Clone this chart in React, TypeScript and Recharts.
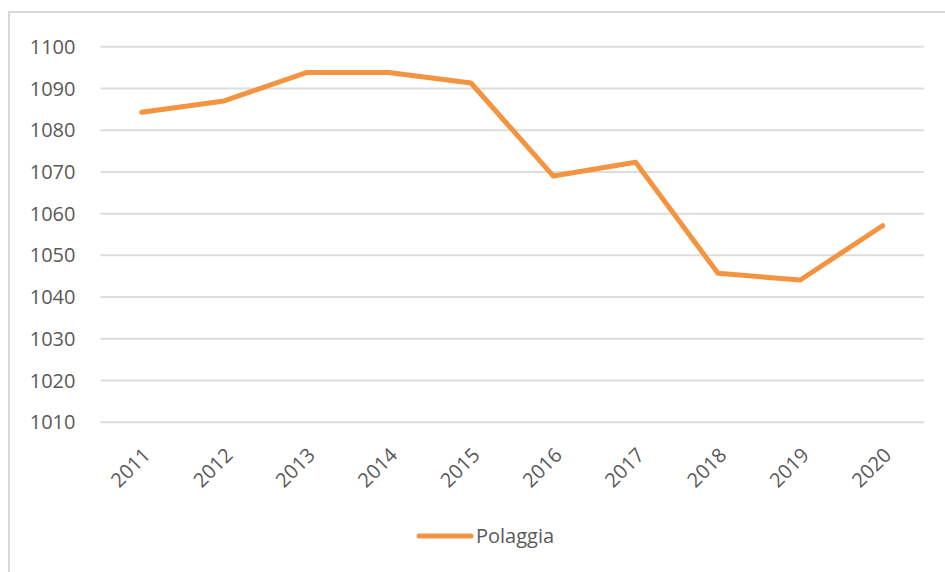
import { LineChart, Line, XAxis, YAxis, CartesianGrid, Legend } from 'recharts'

const years = ['2011', '2012', '2013', '2014', '2015', '2016', '2017', '2018', '2019', '2020']
const polaggia = [1084.3, 1087.0, 1093.8, 1093.8, 1091.3, 1069.0, 1072.3, 1045.7, 1044.1, 1057.1]
const yTicks = [1010, 1020, 1030, 1040, 1050, 1060, 1070, 1080, 1090, 1100]

const LINE_COLOR = '#F59440'
const TEXT_COLOR = '#595959'
const GRID_COLOR = '#DDDDDD'
const FONT = '"Open Sans", "Liberation Sans", sans-serif'

const data = years.map((y, i) => ({ year: y, Polaggia: polaggia[i] }))

// rotated year labels, like the spreadsheet export
const YearTick = (props: any) => {
  const { x, y, payload } = props
  const ax = x + 10
  const ay = y + 26
  return (
    <text
      x={ax}
      y={ay}
      textAnchor="end"
      fill={TEXT_COLOR}
      fontSize={20}
      fontFamily={FONT}
      transform={`rotate(-45, ${ax}, ${ay})`}
    >
      {payload.value}
    </text>
  )
}

const LegendContent = () => (
  <div style={{ display: 'flex', alignItems: 'center', fontFamily: FONT, fontSize: 20, color: TEXT_COLOR }}>
    <svg width={58} height={10} style={{ marginRight: 2 }}>
      <line x1={3} y1={5} x2={55} y2={5} stroke={LINE_COLOR} strokeWidth={5} strokeLinecap="round" />
    </svg>
    <span>Polaggia</span>
  </div>
)

export default function App() {
  return (
    <div style={{ position: 'absolute', left: 0, top: 0, width: 945, height: 572, overflow: 'hidden', background: '#fff' }}>
      <div
        style={{
          position: 'absolute', left: 8, top: 11, width: 960, height: 600,
          border: '2px solid #D9D9D9', boxSizing: 'border-box',
        }}
      />
      <div style={{ position: 'absolute', left: 0, top: 0 }}>
        <LineChart
          width={945}
          height={572}
          data={data}
          margin={{ top: 46.7, right: 21.2, left: 0, bottom: 89.7 }}
        >
          <CartesianGrid vertical={false} stroke={GRID_COLOR} strokeWidth={2} />
          <XAxis
            dataKey="year"
            axisLine={false}
            tickLine={false}
            height={60}
            interval={0}
            padding={{ left: 41.2, right: 41.2 }}
            tick={<YearTick />}
          />
          <YAxis
            domain={[1010, 1100]}
            ticks={yTicks}
            width={100.5}
            axisLine={false}
            tickLine={false}
            tickMargin={19}
            tick={{ fill: TEXT_COLOR, fontSize: 20, fontFamily: FONT }}
          />
          <Legend
            verticalAlign="middle"
            align="center"
            content={<LegendContent />}
            wrapperStyle={{ top: 522, left: 416, width: 200, height: 28 }}
          />
          <Line
            type="linear"
            dataKey="Polaggia"
            stroke={LINE_COLOR}
            strokeWidth={5}
            strokeLinejoin="round"
            strokeLinecap="round"
            dot={false}
            activeDot={false}
            isAnimationActive={false}
          />
        </LineChart>
      </div>
    </div>
  )
}
